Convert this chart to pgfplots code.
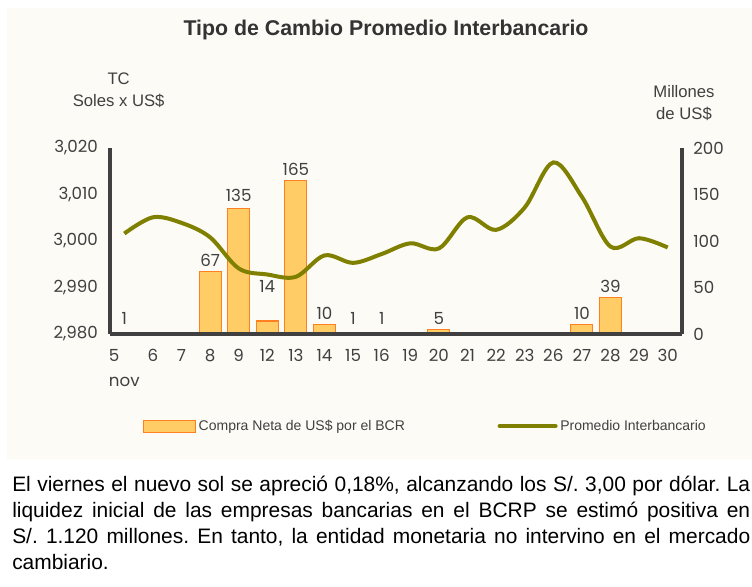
\documentclass[border=0pt]{standalone}
\usepackage{fontspec}
\setmainfont{Liberation Sans}
\newfontfamily\tickfont{Poppins}
\usepackage{pgfplots}
\usepackage{pgfplotstable}
\pgfplotsset{compat=1.18}
\definecolor{bg}{HTML}{FCFBF6}
\definecolor{barfill}{HTML}{FFCC66}
\definecolor{baredge}{HTML}{FF8020}
\definecolor{olivel}{HTML}{808000}
\definecolor{axgray}{HTML}{404040}

\pgfplotstableread{
x y dy
0 1 4
3 67 0
4 135 2
5 14 24
6 165 0
7 10 0
8 1 4
9 1 4
11 5 0
16 10 0
17 39 0
}\bars

\pgfplotstableread{
x y
0 3001.6
1 3005.1
2 3003.9
3 3000.8
4 2994.1
5 2992.8
6 2992.3
7 2996.9
8 2995.3
9 2997.2
10 2999.5
11 2998.4
12 3005.1
13 3002.4
14 3007.2
15 3016.9
16 3009.5
17 2998.8
18 3000.6
19 2998.6
}\tc

\pgfplotsset{
  common/.style={
    width=429pt, height=139.5pt, scale only axis,
    at={(82.5pt,189pt)}, anchor=south west,
    xmin=-0.5, xmax=19.5,
    major tick length=0pt,
    axis line style={-, line width=3pt, axgray},
    tick label style={font=\tickfont\fontsize{12.5}{14}\selectfont, text=axgray},
    /pgf/number format/assume math mode=true,
    /pgf/number format/1000 sep={,},
    clip=false,
  },
  barlegend/.style={legend image code/.code={\draw[##1] (0pt,-4.5pt) rectangle (39pt,4.5pt);}},
  linelegend/.style={legend image code/.code={\draw[##1, line cap=round] (0pt,0pt) -- (42pt,0pt);}},
}

\begin{document}
\begin{tikzpicture}
\path[use as bounding box] (0,0) rectangle (564pt,439.5pt);
\clip (0,0) rectangle (564pt,439.5pt);
\fill[white] (0,0) rectangle (564pt,439.5pt);
\fill[bg] (5.25pt,95pt) rectangle (564pt,433.5pt);

% bars, right axis
\begin{axis}[common,
  axis on top,
  ymin=0, ymax=200,
  axis y line*=right, axis x line*=bottom,
  ytick={0,50,100,150,200},
  yticklabel style={xshift=5pt},
  xtick={0,...,19},
  xticklabels={{5\\nov},6,7,8,9,12,13,14,15,16,19,20,21,22,23,26,27,28,29,30},
  xticklabel style={align=left, yshift=-8pt, font=\tickfont\fontsize{12.5}{19}\selectfont},
  ybar, bar width=16.5pt,
]
\addplot[fill=barfill, draw=baredge, line width=0.8pt,
  point meta=explicit symbolic,
  visualization depends on={\thisrow{dy} \as \dy},
  nodes near coords,
  nodes near coords style={font=\tickfont\fontsize{12.5}{14}\selectfont, text=axgray, yshift={\dy*0.75pt}},
] table[x=x, y=y, meta=y] {\bars};
\end{axis}

% line, left axis
\begin{axis}[common,
  ymin=2980, ymax=3020,
  axis y line*=left, axis x line=none,
  ytick={2980,2990,3000,3010,3020},
  yticklabel style={xshift=-5.5pt},
  legend style={at={(0.552,-0.495)}, anchor=center, draw=none, fill=none,
    legend columns=2, font=\fontsize{10.5}{12}\selectfont, text=axgray,
    /tikz/every even column/.append style={column sep=67.5pt}},
]
\addlegendimage{fill=barfill, draw=baredge, line width=0.8pt, barlegend}
\addlegendentry{Compra Neta de US\$ por el BCR}
\addplot[olivel, line width=3pt, smooth, tension=0.55, linelegend] table[x=x,y=y] {\tc};
\addlegendentry{Promedio Interbancario}
\end{axis}

% titles and labels
\node[font=\bfseries\fontsize{16}{18}\selectfont, text=black!80] at (289.5pt,417pt) {Tipo de Cambio Promedio Interbancario};
\node[font=\fontsize{12.5}{16.5}\selectfont, text=axgray, align=center] at (89pt,372pt) {TC\\Soles x US\$};
\node[font=\fontsize{12.5}{16.5}\selectfont, text=axgray, align=center] at (513pt,362pt) {Millones\\de US\$};

\node[anchor=north west, inner sep=0pt, text width=553.5pt, align=justify, font=\fontsize{15.7}{19.5}\selectfont] at (9pt,82.3pt)
 {\frenchspacing El viernes el nuevo sol se apreció 0,18\%, alcanzando los S/. 3,00 por dólar. La\linebreak
 liquidez inicial de las empresas bancarias en el BCRP se estimó positiva en\linebreak
 S/. 1.120 millones. En tanto, la entidad monetaria no intervino en el mercado\linebreak
 cambiario.};
\end{tikzpicture}
\end{document}
